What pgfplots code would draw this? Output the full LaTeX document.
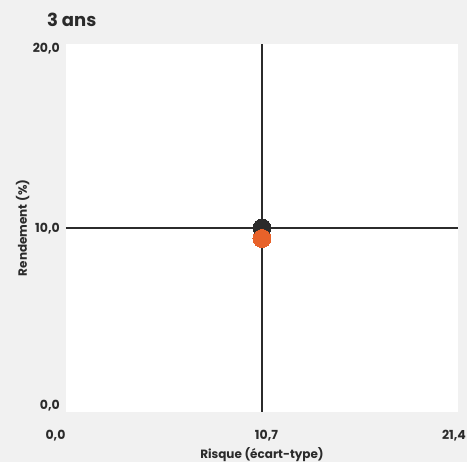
\documentclass[border=0pt]{standalone}
\usepackage{pgfplots}
\pgfplotsset{compat=1.18}
\usepackage{fontspec}
\setmainfont{Poppins}
\definecolor{bggray}{HTML}{F1F1F1}
\definecolor{darkc}{HTML}{2B2B2B}
\definecolor{orangec}{HTML}{E8622A}
\begin{document}
\begin{tikzpicture}[x=1pt,y=1pt]
\path[use as bounding box, fill=bggray] (0,0) rectangle (467,462);
\node[anchor=base west, font=\fontsize{18}{21}\selectfont\bfseries, text=darkc, inner sep=0] at (47,435) {3 ans};
\begin{axis}[
  at={(66pt,50pt)}, anchor=south west,
  scale only axis, width=392pt, height=368pt,
  xmin=0, xmax=21.4, ymin=0, ymax=20,
  axis line style={draw=none},
  axis background/.style={fill=white},
  major tick length=0,
  xtick={0,10.7,21.4},
  xticklabels={{0,0\hspace*{21pt}},{\hspace*{9pt}10,7},{21,4\hspace*{8pt}}},
  ytick={0,10,20},
  yticklabels={{\raisebox{7pt}{0,0}},{10,0},{\raisebox{-4pt}{20,0}}},
  tick label style={font=\fontsize{12.5}{14}\selectfont\bfseries, text=darkc, inner sep=0pt},
  xticklabel style={anchor=base, yshift=-28pt},
  yticklabel style={anchor=base east, xshift=-6pt, yshift=-4.5pt},
  xlabel={Risque (écart-type)},
  ylabel={Rendement (\%)},
  label style={font=\fontsize{12}{14}\selectfont\bfseries, text=darkc, inner sep=0pt},
  xlabel style={at={(axis description cs:0.5,0)}, anchor=base, yshift=-47pt},
  ylabel style={at={(axis description cs:0,0.5)}, anchor=base, yshift=39pt},
  clip=false,
]
\addplot[darkc, line width=2.8pt] coordinates {(0,10) (21.4,10)};
\addplot[darkc, line width=2.8pt] coordinates {(10.7,0) (10.7,20)};
\addplot[only marks, mark=*, mark size=9pt, mark options={draw=darkc, fill=darkc, line width=0pt}] coordinates {(10.7,10.0)};
\addplot[only marks, mark=*, mark size=9pt, mark options={draw=orangec, fill=orangec, line width=0pt}] coordinates {(10.7,9.43)};
\end{axis}
\end{tikzpicture}
\end{document}
